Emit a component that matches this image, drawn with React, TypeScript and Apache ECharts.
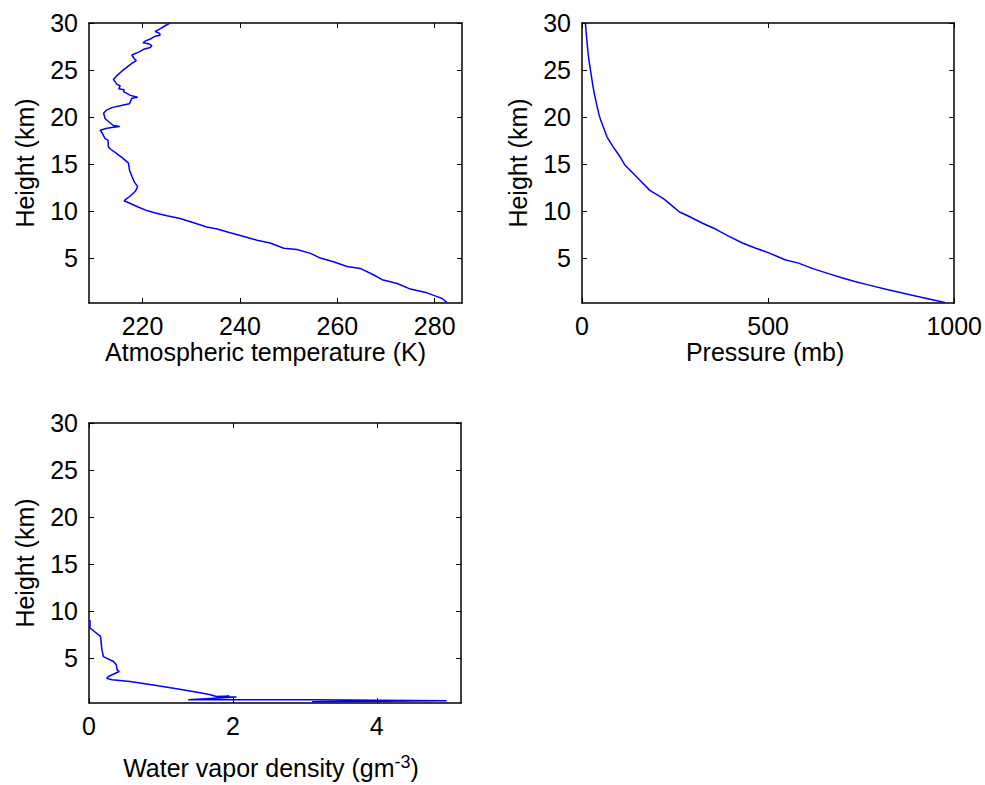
import { useEffect, useRef } from 'react';
import * as echarts from 'echarts';

// ---- Data ----
const tempHeightKm = [
  0.28, 0.7, 0.9, 1.3, 1.7, 2.3, 2.7, 3.2, 3.9, 4.1, 4.6, 5.0, 5.5, 5.9, 6.05, 6.6, 6.9, 7.3, 7.7, 8.1,
  8.3, 8.7, 9.2, 9.5, 9.8, 10.05, 10.4, 10.8, 11.1, 11.2, 11.6, 12.1, 12.6, 13.1, 13.7, 14.4, 15.1, 15.6,
  16.1, 16.6, 16.8, 17.55, 17.7, 18.3, 18.6, 18.8, 18.9, 19.0, 19.1, 19.6, 19.85, 20.4, 20.7, 21.0, 21.2,
  21.4, 22.0, 22.1, 22.3, 22.7, 22.9, 23.0, 23.3, 23.5, 24.0, 24.4, 24.9, 25.3, 25.7, 26.0, 26.2, 26.6,
  26.9, 27.2, 27.4, 27.6, 27.8, 27.9, 28.1, 28.3, 28.6, 28.7, 28.9, 29.1, 29.3, 29.6, 30.0,
];
const temperatureK = [
  282.5, 281.5, 280.5, 278.4, 275.0, 272.3, 269.2, 267.5, 264.7, 262.0, 259.2, 256.5, 254.5, 251.7, 249.0,
  246.2, 243.5, 240.8, 238.0, 235.3, 233.2, 230.8, 227.7, 225.0, 222.6, 220.9, 219.2, 217.5, 216.2, 216.4,
  217.5, 218.5, 219.0, 218.3, 217.8, 217.3, 217.1, 216.0, 214.7, 213.4, 213.0, 212.9, 212.3, 211.7, 211.3,
  212.7, 214.0, 215.3, 214.0, 212.8, 212.3, 212.0, 212.5, 213.7, 215.4, 217.3, 217.8, 219.0, 217.5, 216.1,
  216.2, 215.1, 215.4, 214.7, 214.0, 214.7, 215.8, 216.8, 217.8, 218.7, 218.3, 217.8, 219.2, 220.2, 221.6,
  221.9, 221.2, 220.1, 220.6, 221.6, 222.6, 223.6, 223.5, 222.6, 223.3, 224.3, 225.6,
];

const pressureHeightKm = [
  0.28, 0.91, 1.3, 1.63, 2.15, 2.5, 2.9, 3.4, 3.9, 4.46, 4.8, 5.55, 6.05, 6.6, 7.3, 8.06, 8.7, 9.5, 9.9,
  10.5, 11.35, 12.2, 13.3, 14.0, 14.9, 15.8, 16.8, 17.9, 19.7, 20.2, 21.4, 22.5, 23.4, 26.2, 27.1, 28.2, 30.0,
];
const pressureMb = [
  975, 902, 858, 822, 769, 733, 698, 658, 618, 582, 547, 502, 467, 431, 395, 360, 324, 284, 262,
  244, 218, 182, 155, 138, 115, 102, 84, 67, 50, 46, 39, 33, 29, 18, 15.5, 13, 9,
];

const vaporHeightKm = [
  9.05, 8.2, 7.3, 6.05, 5.16, 4.63, 4.28, 3.75, 3.57, 3.04, 2.86, 2.69, 2.51, 2.15, 1.7, 1.16, 0.92,
  0.97, 0.88, 0.85, 0.56, 0.56, 0.45, 0.36,
];
const vaporDensity = [
  0.014, 0.014, 0.16, 0.176, 0.2, 0.34, 0.38, 0.39, 0.42, 0.27, 0.245, 0.32, 0.57, 0.87, 1.24, 1.66, 1.77,
  1.95, 1.85, 2.05, 1.38, 3.1, 4.97, 3.1,
];

const heightTicks = [5, 10, 15, 20, 25, 30];
const tempTicks = [220, 240, 260, 280];
const pressureTicks = [0, 500, 1000];
const vaporTicks = [0, 2, 4];

const FONT = 'Arial, "Liberation Sans", Helvetica, sans-serif';
const LINE_W = 1.5;

function zip(xs: number[], ys: number[]) {
  return xs.map((x, i) => [x, ys[i]]);
}

const plain = (v: number) => String(v);

function xAxisPair(grid: number, min: number, max: number, ticks: number[], name: string, nameGap: number, shift: number, rich?: any) {
  const common = {
    type: 'value',
    gridIndex: grid,
    min,
    max,
    splitLine: { show: false },
    axisLine: { show: true, onZero: false, lineStyle: { color: '#000', width: LINE_W } },
    axisTick: { show: true, inside: true, length: 5, customValues: ticks, lineStyle: { color: '#000', width: 1 } },
  };
  return [
    {
      ...common,
      position: 'bottom',
      axisLabel: { show: true, customValues: ticks, formatter: plain, margin: 10, color: '#000', fontSize: 25, fontFamily: FONT },
      name,
      nameLocation: 'middle',
      nameGap,
      nameTextStyle: {
        color: '#000',
        fontSize: 25,
        fontFamily: FONT,
        padding: shift < 0 ? [0, -2 * shift, 0, 0] : [0, 0, 0, 2 * shift],
        ...(rich ? { rich } : {}),
      },
    },
    { ...common, position: 'top', axisLabel: { show: false } },
  ];
}

function yAxisPair(grid: number, nameGap: number) {
  const common = {
    type: 'value',
    gridIndex: grid,
    min: 0.22,
    max: 30,
    splitLine: { show: false },
    axisLine: { show: true, onZero: false, lineStyle: { color: '#000', width: LINE_W } },
    axisTick: { show: true, inside: true, length: 5, customValues: heightTicks, lineStyle: { color: '#000', width: 1 } },
  };
  return [
    {
      ...common,
      position: 'left',
      axisLabel: { show: true, customValues: heightTicks, formatter: plain, margin: 11, color: '#000', fontSize: 25, fontFamily: FONT },
      name: 'Height (km)',
      nameLocation: 'middle',
      nameGap,
      nameTextStyle: { color: '#000', fontSize: 25, fontFamily: FONT },
    },
    { ...common, position: 'right', axisLabel: { show: false } },
  ];
}

function lineSeries(axisIndex: number, data: number[][]) {
  return {
    type: 'line',
    xAxisIndex: axisIndex,
    yAxisIndex: axisIndex,
    data,
    showSymbol: false,
    symbol: 'none',
    smooth: false,
    lineStyle: { color: '#0000ff', width: 1.5 },
    itemStyle: { color: '#0000ff' },
    z: 1,
    silent: true,
  };
}

export default function App() {
  const ref = useRef<HTMLDivElement>(null);
  useEffect(() => {
    const chart = echarts.init(ref.current!, null, { renderer: 'svg' });
    const option: any = {
      animation: false,
      backgroundColor: '#fff',
      textStyle: { fontFamily: FONT },
      grid: [
        { left: 89, top: 23, width: 373, height: 280, containLabel: false },
        { left: 582, top: 23, width: 375, height: 280, containLabel: false },
        { left: 89, top: 423, width: 372, height: 280, containLabel: false },
      ],
      xAxis: [
        ...xAxisPair(0, 209, 285.6, tempTicks, 'Atmospheric temperature (K)', 36, -10),
        ...xAxisPair(1, 0, 1000, pressureTicks, 'Pressure (mb)', 36, -3),
        ...xAxisPair(2, 0, 5.17, vaporTicks, '{t|Water vapor density (gm}{s|-3}{t|)}', 50, -4, {
          t: { fontSize: 25, fontFamily: FONT, color: '#000', lineHeight: 30 },
          s: { fontSize: 18, fontFamily: FONT, color: '#000', verticalAlign: 'top', lineHeight: 18 },
        }),
      ],
      yAxis: [...yAxisPair(0, 52), ...yAxisPair(1, 52), ...yAxisPair(2, 52)],
      series: [
        lineSeries(0, zip(temperatureK, tempHeightKm)),
        lineSeries(2, zip(pressureMb, pressureHeightKm)),
        lineSeries(4, zip(vaporDensity, vaporHeightKm)),
      ],
    };
    chart.setOption(option);
    return () => chart.dispose();
  }, []);
  return (
    <div
      ref={ref}
      style={{ position: 'fixed', left: 0, top: 0, width: 985, height: 785, background: '#fff' }}
    />
  );
}
